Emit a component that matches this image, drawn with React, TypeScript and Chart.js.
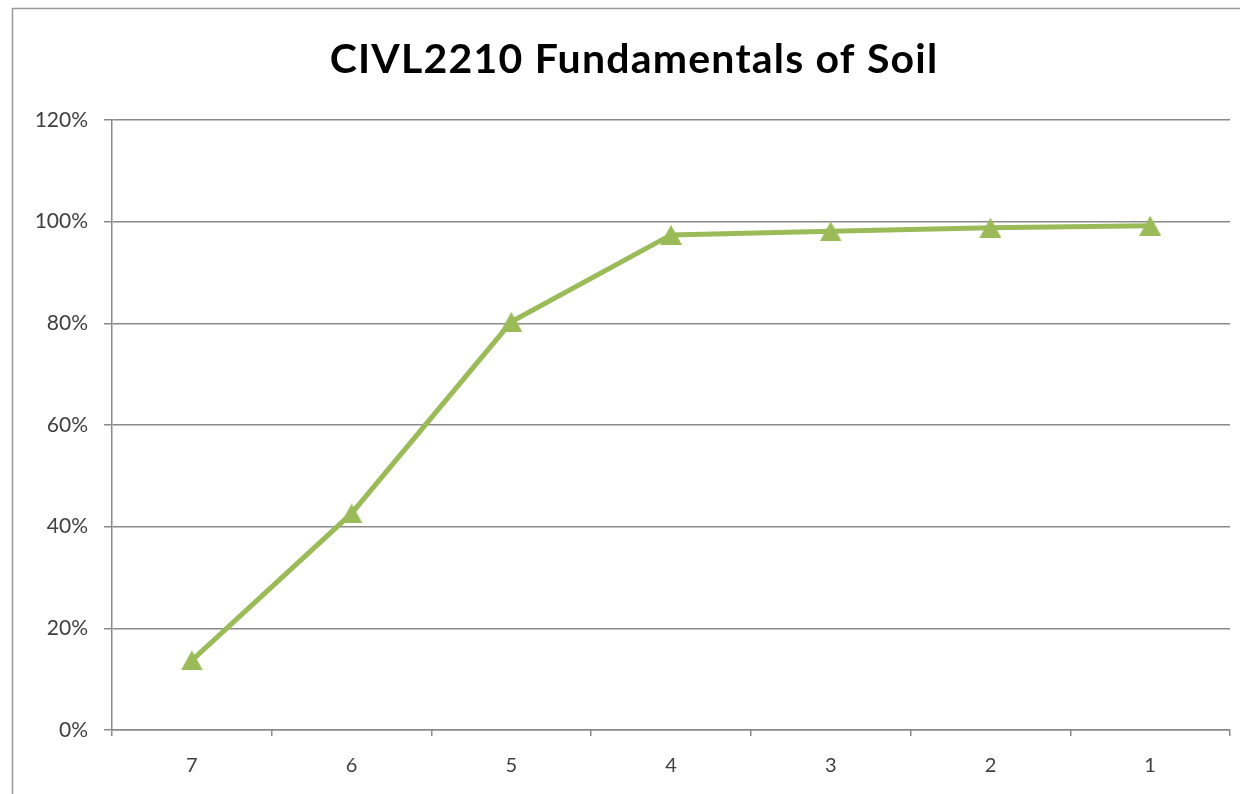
import React, { useEffect, useRef } from "react";
import { Chart, registerables } from "chart.js";

Chart.register(...registerables);

const categories = ["7", "6", "5", "4", "3", "2", "1"];
const percentPassing = [13.7, 42.6, 80.3, 97.4, 98.1, 98.8, 99.2];
const yTicks = [0, 20, 40, 60, 80, 100, 120];
const titleText = "CIVL2210 Fundamentals of Soil";

const GREEN = "#9BBB59";
const GRID = "#8a8a8a";
const LABEL = "#404040";

function makeTriangle(): HTMLCanvasElement {
  const c = document.createElement("canvas");
  const w = 22;
  const h = 20;
  c.width = w;
  c.height = h;
  const ctx = c.getContext("2d")!;
  ctx.fillStyle = GREEN;
  ctx.beginPath();
  ctx.moveTo(w / 2, 0);
  ctx.lineTo(w, h);
  ctx.lineTo(0, h);
  ctx.closePath();
  ctx.fill();
  return c;
}

const framePlugin = {
  id: "frame",
  beforeDraw(chart: any) {
    const ctx = chart.ctx;
    ctx.save();
    ctx.fillStyle = "#ffffff";
    ctx.fillRect(0, 0, chart.width, chart.height);
    ctx.strokeStyle = "#9a9a9a";
    ctx.lineWidth = 1.5;
    ctx.beginPath();
    ctx.moveTo(12.5, chart.height + 5);
    ctx.lineTo(12.5, 8.5);
    ctx.lineTo(chart.width + 5, 8.5);
    ctx.stroke();
    ctx.restore();
  },
  afterDraw(chart: any) {
    const ctx = chart.ctx;
    const area = chart.chartArea;
    ctx.save();
    ctx.fillStyle = "#000000";
    ctx.font = "bold 41px Lato";
    (ctx as any).letterSpacing = "1.2px";
    ctx.textAlign = "center";
    ctx.textBaseline = "middle";
    ctx.fillText(titleText, 634, area.top - 60);
    ctx.restore();
  },
};

export default function App() {
  const ref = useRef<HTMLCanvasElement | null>(null);
  useEffect(() => {
    if (!ref.current) return;
    const tri = makeTriangle();
    const chart = new Chart(ref.current, {
      type: "line",
      data: {
        labels: categories,
        datasets: [
          {
            data: percentPassing,
            borderColor: GREEN,
            backgroundColor: GREEN,
            borderWidth: 5,
            pointStyle: tri as any,
            pointRadius: 10,
            tension: 0,
          },
        ],
      },
      plugins: [framePlugin],
      options: {
        responsive: false,
        animation: false,
        layout: { autoPadding: false, padding: { left: 0, right: 10, top: 120, bottom: 0 } },
        plugins: {
          legend: { display: false },
          tooltip: { enabled: false },
          title: { display: false },
        },
        scales: {
          x: {
            type: "category",
            offset: true,
            grid: {
              offset: true,
              drawOnChartArea: false,
              drawTicks: true,
              tickLength: 6,
              color: GRID,
              lineWidth: 1.5,
            },
            border: { display: true, color: GRID, width: 1.5 },
            ticks: {
              color: LABEL,
              font: { family: "Lato", size: 20 },
              padding: 18,
              maxRotation: 0,
            },
            afterFit(scale: any) {
              scale.height = 64;
              scale.paddingLeft = 0;
              scale.paddingRight = 0;
            },
          },
          y: {
            min: 0,
            max: 120,
            afterBuildTicks(scale: any) {
              scale.ticks = yTicks.map((v) => ({ value: v }));
            },
            grid: {
              color: GRID,
              lineWidth: 1.5,
              drawTicks: true,
              tickLength: 8,
            },
            border: { display: true, color: GRID, width: 1.5 },
            ticks: {
              color: LABEL,
              font: { family: "Lato", size: 21 },
              padding: 16,
              callback: (v: any) => `${v}%`,
            },
            afterFit(scale: any) {
              scale.width = 112;
            },
          },
        },
      },
    });
    return () => chart.destroy();
  }, []);
  return (
    <div style={{ position: "fixed", left: 0, top: 0, width: 1240, height: 794 }}>
      <canvas ref={ref} width={1240} height={794} style={{ display: "block" }} />
    </div>
  );
}
